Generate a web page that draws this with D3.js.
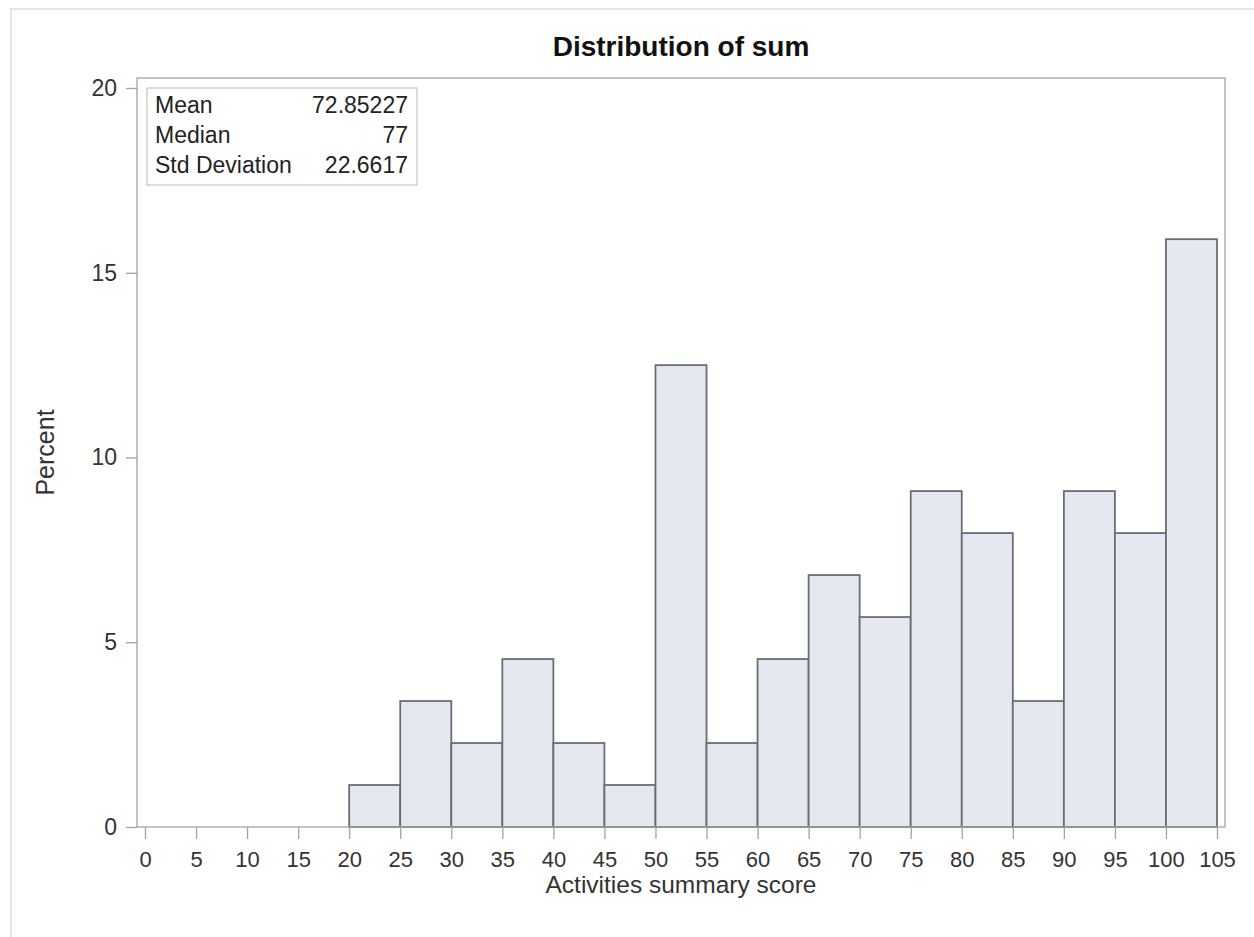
<!DOCTYPE html>
<html><head><meta charset="utf-8">
<script src="https://cdn.jsdelivr.net/npm/d3@7"></script>
<style>body{margin:0;background:#fff}svg{display:block;font-family:"Liberation Sans",Arial,sans-serif}</style>
</head><body>
<svg id="c" width="1254" height="937"></svg>
<script>
const binStarts = [0,5,10,15,20,25,30,35,40,45,50,55,60,65,70,75,80,85,90,95,100];
const counts    = [0,0,0,0,1,3,2,4,2,1,11,2,4,6,5,8,7,3,8,7,14];
const total = 88;
const percents = counts.map(c => c / total * 100);
const xTicks = [0,5,10,15,20,25,30,35,40,45,50,55,60,65,70,75,80,85,90,95,100,105];
const yTicks = [0,5,10,15,20];
const statLabels = ["Mean","Median","Std Deviation"];
const statValues = ["72.85227","77","22.6617"];
const binWidth = 5;

const svg = d3.select("#c");
// outer faint border
svg.append("path").attr("d","M11,937V9H1254").attr("fill","none").attr("stroke","#e6e6e6").attr("stroke-width",2);

const frame = {l:137, r:1225, t:78, b:827};
const x = d3.scaleLinear().domain([0,105]).range([145,1217]);
const y = d3.scaleLinear().domain([0,20]).range([827,88]);

// bars
svg.append("g").selectAll("rect").data(binStarts).join("rect")
  .attr("x", (d)=>x(d))
  .attr("width", (d)=>x(d+binWidth)-x(d))
  .attr("y", (d,i)=>y(percents[i]))
  .attr("height", (d,i)=>y(0)-y(percents[i]))
  .attr("fill","#e3e8f1")
  .attr("stroke","#6a6e74")
  .attr("stroke-width",1.8);

// frame
svg.append("rect").attr("x",frame.l).attr("y",frame.t).attr("width",frame.r-frame.l).attr("height",frame.b-frame.t)
  .attr("fill","none").attr("stroke","#a3a3a3").attr("stroke-width",1.3);

const FF = "Liberation Sans, Arial, sans-serif";
// axes
const xAxis = d3.axisBottom(x).tickValues(xTicks).tickSize(12).tickSizeOuter(0).tickPadding(12);
const gx = svg.append("g").attr("transform",`translate(0,${frame.b})`).call(xAxis);
gx.select(".domain").remove();
gx.selectAll(".tick line").attr("stroke","#a3a3a3").attr("stroke-width",1.3);
gx.selectAll(".tick text").attr("font-size",22).attr("fill","#333").attr("font-family",FF);

const yAxis = d3.axisLeft(y).tickValues(yTicks).tickSize(11).tickSizeOuter(0).tickPadding(9);
const gy = svg.append("g").attr("transform",`translate(${frame.l},0)`).call(yAxis);
gy.select(".domain").remove();
gy.selectAll(".tick line").attr("stroke","#a3a3a3").attr("stroke-width",1.3);
gy.selectAll(".tick text").attr("font-size",23).attr("fill","#333").attr("font-family",FF);

// title
svg.append("text").attr("x",(frame.l+frame.r)/2).attr("y",56).attr("text-anchor","middle")
  .attr("font-size",28).attr("font-weight","bold").attr("fill","#111").text("Distribution of sum");

// axis labels
svg.append("text").attr("x",(frame.l+frame.r)/2).attr("y",893).attr("text-anchor","middle")
  .attr("font-size",24.5).attr("fill","#333").text("Activities summary score");
svg.append("text").attr("transform",`translate(54,${(frame.t+frame.b)/2}) rotate(-90)`).attr("text-anchor","middle")
  .attr("font-size",25).attr("fill","#333").text("Percent");

// stats inset
svg.append("rect").attr("x",147).attr("y",88).attr("width",270).attr("height",97)
  .attr("fill","#fff").attr("stroke","#c4c4c4").attr("stroke-width",1.2);
const rowY = [113,143,173];
statLabels.forEach((s,i)=>{
  svg.append("text").attr("x",155).attr("y",rowY[i]).attr("font-size",23).attr("fill","#222").text(s);
  svg.append("text").attr("x",408).attr("y",rowY[i]).attr("text-anchor","end").attr("font-size",23).attr("fill","#222").text(statValues[i]);
});
</script>
</body></html>
